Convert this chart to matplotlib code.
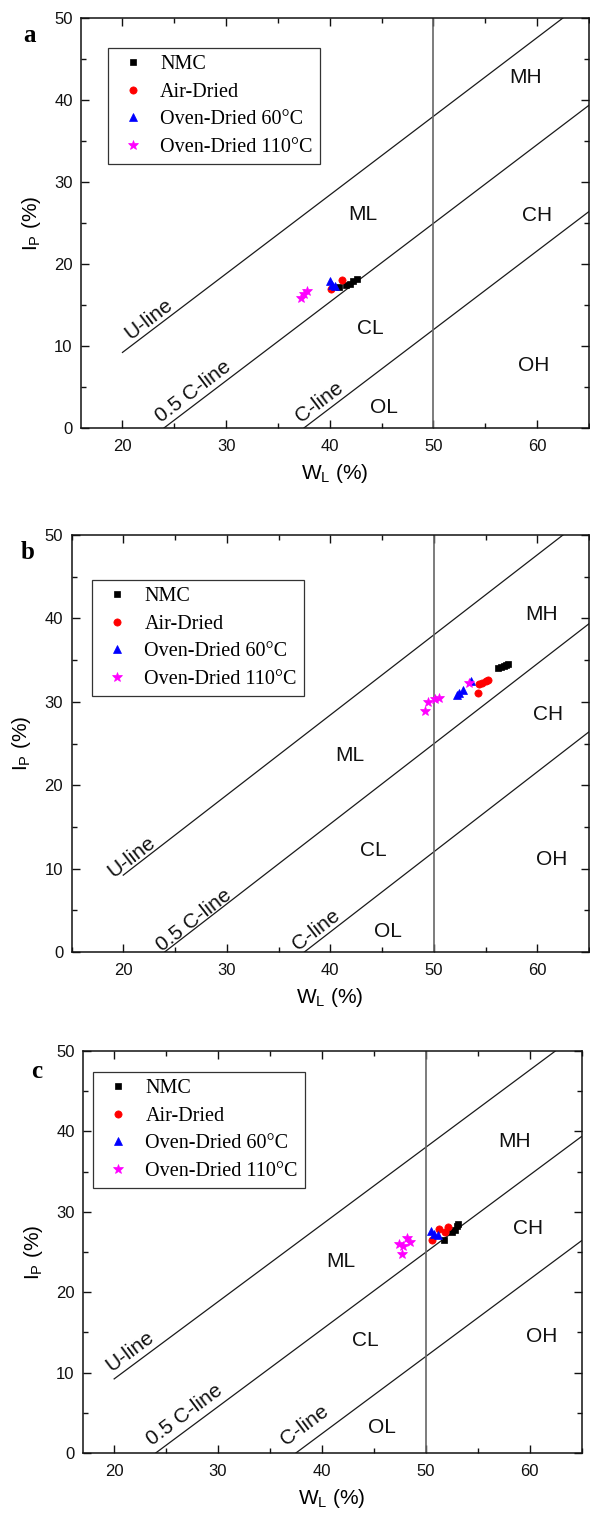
import matplotlib
matplotlib.use('Agg')
import matplotlib.pyplot as plt
from matplotlib.ticker import MultipleLocator
import numpy as np

plt.rcParams['font.family'] = ['Liberation Sans', 'DejaVu Sans']
plt.rcParams['mathtext.default'] = 'regular'

# ---------------- data ----------------
series_names = ['NMC', 'Air-Dried', 'Oven-Dried 60°C', 'Oven-Dried 110°C']

# panel a
a_nmc_x = [40.9, 41.6, 41.9, 42.2, 42.6]
a_nmc_y = [17.2, 17.4, 17.6, 17.9, 18.2]
a_air_x = [40.1, 41.2]
a_air_y = [17.0, 18.0]
a_60_x = [40.0, 40.25, 40.5]
a_60_y = [17.9, 17.5, 17.3]
a_110_x = [37.2, 37.5, 37.8]
a_110_y = [15.9, 16.4, 16.7]

# panel b
b_nmc_x = [56.2, 56.5, 56.8, 57.0, 57.2]
b_nmc_y = [34.0, 34.2, 34.3, 34.4, 34.5]
b_air_x = [54.3, 54.4, 54.7, 55.0, 55.2]
b_air_y = [31.1, 32.1, 32.3, 32.5, 32.6]
b_60_x = [52.2, 52.4, 52.8, 53.6]
b_60_y = [30.8, 31.1, 31.4, 32.5]
b_110_x = [49.2, 49.4, 50.1, 50.5, 53.4]
b_110_y = [28.9, 30.0, 30.3, 30.4, 32.3]

# panel c
c_nmc_x = [51.8, 52.5, 52.8, 53.0, 53.1]
c_nmc_y = [26.5, 27.5, 27.7, 28.2, 28.5]
c_air_x = [50.6, 51.3, 51.9, 52.1]
c_air_y = [26.5, 27.9, 27.5, 28.1]
c_60_x = [50.5, 50.8, 51.2]
c_60_y = [27.6, 27.2, 27.1]
c_110_x = [47.4, 47.7, 47.8, 48.2, 48.5]
c_110_y = [26.0, 24.7, 25.8, 26.7, 26.2]

# classification lines: Ip = slope * (wL - offset), starting at wL = start
line_names = ['U-line', '0.5 C-line', 'C-line']
line_slope = 0.96
line_offsets = [10.4, 24.0, 37.5]
line_starts = [20.0, 24.0, 37.5]
wl_divider = 50.0
region_names = ['MH', 'ML', 'CH', 'CL', 'OH', 'OL']

x_ticks = [20, 30, 40, 50, 60]
y_ticks = [0, 10, 20, 30, 40, 50]

# ---------------- layout ----------------
W, H = 590, 1515
fig = plt.figure(figsize=(W / 100, H / 100), dpi=100)
fig.patch.set_facecolor('white')

def px_axes(left, right, top, bottom):
    return [left / W, 1 - bottom / H, (right - left) / W, (bottom - top) / H]

panels = [
    dict(letter='a', rect=px_axes(81, 589, 18, 428), xlim=(16, 65),
         data=[(a_nmc_x, a_nmc_y), (a_air_x, a_air_y), (a_60_x, a_60_y), (a_110_x, a_110_y)],
         legend_anchor=(0.053, 0.927), letter_px=(29, 35),
         regions=[(58.9, 42.8), (43.2, 26.0), (60.0, 25.9), (43.9, 12.1), (59.7, 7.6), (45.2, 2.5)],
         line_labels=[(22.5, 13.3), (26.8, 4.5), (38.95, 3.1)]),
    dict(letter='b', rect=px_axes(71.5, 589, 535, 952), xlim=(15, 65),
         data=[(b_nmc_x, b_nmc_y), (b_air_x, b_air_y), (b_60_x, b_60_y), (b_110_x, b_110_y)],
         legend_anchor=(0.0396, 0.892), letter_px=(28, 553),
         regions=[(60.4, 40.5), (41.9, 23.6), (61.0, 28.5), (44.2, 12.2), (61.4, 11.1), (45.6, 2.5)],
         line_labels=[(20.8, 11.4), (26.8, 3.8), (38.6, 2.6)]),
    dict(letter='c', rect=px_axes(83, 581.5, 1051, 1453), xlim=(17, 65),
         data=[(c_nmc_x, c_nmc_y), (c_air_x, c_air_y), (c_60_x, c_60_y), (c_110_x, c_110_y)],
         legend_anchor=(0.02, 0.948), letter_px=(37, 1072),
         regions=[(58.6, 38.7), (41.8, 23.8), (59.9, 27.9), (44.2, 14.0), (61.2, 14.5), (45.8, 3.2)],
         line_labels=[(21.5, 12.6), (26.8, 4.7), (38.3, 3.4)]),
]

styles = [
    dict(marker='s', color='black', ms=5.0),
    dict(marker='o', color='red', ms=5.2),
    dict(marker='^', color='blue', ms=5.8),
    dict(marker='*', color='magenta', ms=7.0),
]

for p in panels:
    ax = fig.add_axes(p['rect'])
    xmin, xmax = p['xlim']
    ymin, ymax = 0, 50
    ax.set_xlim(xmin, xmax)
    ax.set_ylim(ymin, ymax)

    # classification lines
    for off, start in zip(line_offsets, line_starts):
        x_end = min(xmax, ymax / line_slope + off)
        xs = np.array([start, x_end])
        ax.plot(xs, line_slope * (xs - off), color='#1a1a1a', lw=0.9, zorder=2)
    ax.axvline(wl_divider, color='#666666', lw=1.2, zorder=2)

    # data
    for (xs, ys), st, name in zip(p['data'], styles, series_names):
        ax.plot(xs, ys, linestyle='none', marker=st['marker'], color=st['color'],
                markersize=st['ms'], markeredgewidth=0.5, label=name, zorder=5)

    # region labels
    for (rx, ry), name in zip(p['regions'], region_names):
        ax.text(rx, ry, name, fontsize=15, ha='center', va='center', color='#111111')

    # line labels rotated along line
    p1 = ax.transData.transform((30, line_slope * 20))
    p2 = ax.transData.transform((40, line_slope * 30))
    ang = np.degrees(np.arctan2(p2[1] - p1[1], p2[0] - p1[0]))
    for (lx, ly), name in zip(p['line_labels'], line_names):
        ax.text(lx, ly, name, fontsize=15, ha='center', va='center', rotation=ang,
                rotation_mode='anchor', color='#111111')

    ax.set_xticks(x_ticks)
    ax.set_yticks(y_ticks)
    ax.xaxis.set_minor_locator(MultipleLocator(5))
    ax.yaxis.set_minor_locator(MultipleLocator(5))
    ax.tick_params(which='both', direction='in', top=True, right=True, width=1.0,
                   labelsize=12, colors='#111111')
    ax.tick_params(which='major', length=6)
    ax.tick_params(which='minor', length=3.5)
    ax.tick_params(axis='x', which='both', pad=8)
    ax.tick_params(axis='y', which='both', pad=6)
    for s in ax.spines.values():
        s.set_linewidth(1.1)
        s.set_color('#111111')

    ax.set_xlabel('W$_L$ (%)', fontsize=15, labelpad=6)
    ax.set_ylabel('I$_P$ (%)', fontsize=15, labelpad=8)

    leg = ax.legend(loc='upper left', bbox_to_anchor=p['legend_anchor'],
                    prop={'family': ['Liberation Serif', 'DejaVu Serif'], 'size': 14.5},
                    frameon=True, fancybox=False, framealpha=1, edgecolor='#333333',
                    borderpad=0.35, labelspacing=0.42, handlelength=1.8,
                    handletextpad=0.45, borderaxespad=0, numpoints=1)
    leg.get_frame().set_linewidth(0.9)
    leg.set_zorder(6)

    fig.text(p['letter_px'][0] / W, 1 - p['letter_px'][1] / H, p['letter'],
             fontsize=18, fontweight='bold', family=['Liberation Serif', 'DejaVu Serif'],
             ha='center', va='center')

fig.savefig('out.png', dpi=100, facecolor='white')
